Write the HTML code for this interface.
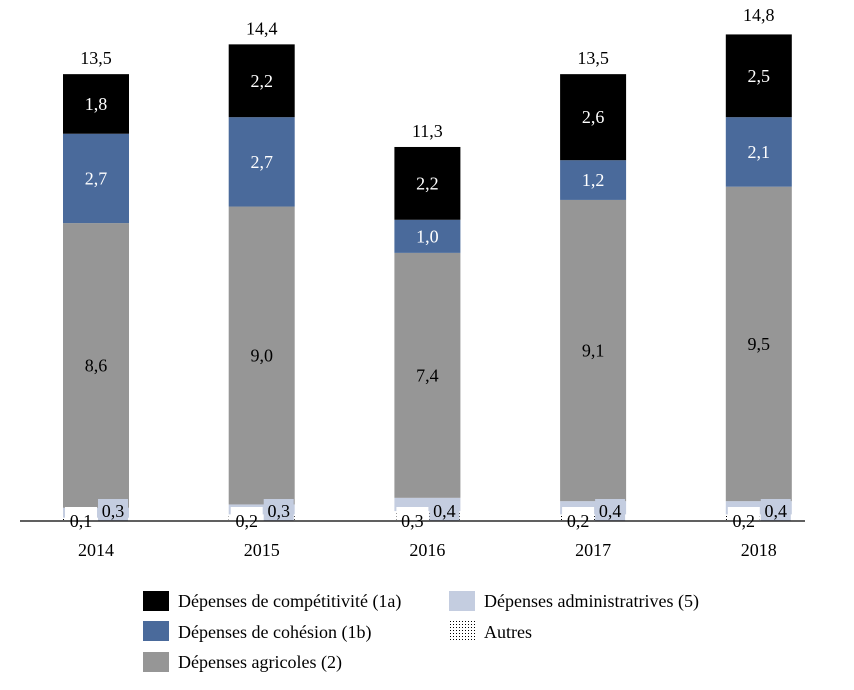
<!DOCTYPE html>
<html><head><meta charset="utf-8"><style>
body{margin:0;background:#fff}
svg text{font-family:"Liberation Serif",serif;font-size:18px}
</style></head><body>
<svg id="c" width="854" height="685" xmlns="http://www.w3.org/2000/svg">
<defs><pattern id="dots" width="3" height="3" patternUnits="userSpaceOnUse"><rect width="3" height="3" fill="#fff"/><rect width="1" height="1" fill="#000"/></pattern></defs>
<g id="bars"></g>
<line x1="20" y1="521" x2="805" y2="521" stroke="#000" stroke-width="1.3"/>
<g id="legend">
<rect x="143" y="591" width="26" height="20" fill="#000"/><text x="178" y="607">Dépenses de compétitivité (1a)</text>
<rect x="143" y="621" width="26" height="20" fill="#4a6a9b"/><text x="178" y="638">Dépenses de cohésion (1b)</text>
<rect x="143" y="652" width="26" height="20" fill="#969696"/><text x="178" y="668">Dépenses agricoles (2)</text>
<rect x="449" y="591" width="26" height="20" fill="#c4cde0"/><text x="484" y="607">Dépenses administratrives (5)</text>
<rect x="449" y="621" width="26" height="20" fill="url(#dots)"/><text x="484" y="638">Autres</text>
</g>
</svg>
<script>
const years=["2014","2015","2016","2017","2018"];
const autres=[0.1,0.2,0.3,0.2,0.2];
const admin=[0.3,0.3,0.4,0.4,0.4];
const agri=[8.6,9.0,7.4,9.1,9.5];
const cohesion=[2.7,2.7,1.0,1.2,2.1];
const compet=[1.8,2.2,2.2,2.6,2.5];
const totals=[13.5,14.4,11.3,13.5,14.8];
const base=521, k=33.1, x0=63, step=165.7, bw=66;
const NS="http://www.w3.org/2000/svg";
const g=document.getElementById('bars');
const fmt=v=>v.toFixed(1).replace('.',',');
const y=v=>base-v*k;
function el(t,a,txt){const e=document.createElementNS(NS,t);for(const n in a)e.setAttribute(n,a[n]);if(txt!=null)e.textContent=txt;g.appendChild(e);return e;}
years.forEach((yr,i)=>{
 const x=x0+i*step;
 let acc=0;
 const segs=[[autres[i],'url(#dots)'],[admin[i],'#c4cde0'],[agri[i],'#969696','#000'],[cohesion[i],'#4a6a9b','#fff'],[compet[i],'#000','#fff']];
 segs.forEach((s,j)=>{
  const r=el('rect',{x:x,y:y(acc+s[0]),width:bw,height:s[0]*k,fill:s[1]});
  
  
  if(s[2]){const t=el('text',{x:x+bw/2,y:y(acc+s[0]/2)+6,'text-anchor':'middle',fill:s[2]},fmt(s[0]));
   
   }
  acc+=s[0];
 });
 const b1=el('rect',{x:x+2,y:base-14,width:32,height:20,fill:'#fff'});
 
 
 const t1=el('text',{x:x+18,y:base+6,'text-anchor':'middle'},fmt(autres[i]));
 
 
 const b2=el('rect',{x:x+35,y:base-22,width:30,height:22,fill:'#c4cde0'});
 
 
 const t2=el('text',{x:x+50,y:base-4,'text-anchor':'middle'},fmt(admin[i]));
 
 
 const tt=el('text',{x:x+bw/2,y:y(totals[i])-10,'text-anchor':'middle'},fmt(totals[i]));
 
 
 const yl=el('text',{x:x+bw/2,y:556,'text-anchor':'middle'},yr);
 
 
});
</script>
</body></html>
